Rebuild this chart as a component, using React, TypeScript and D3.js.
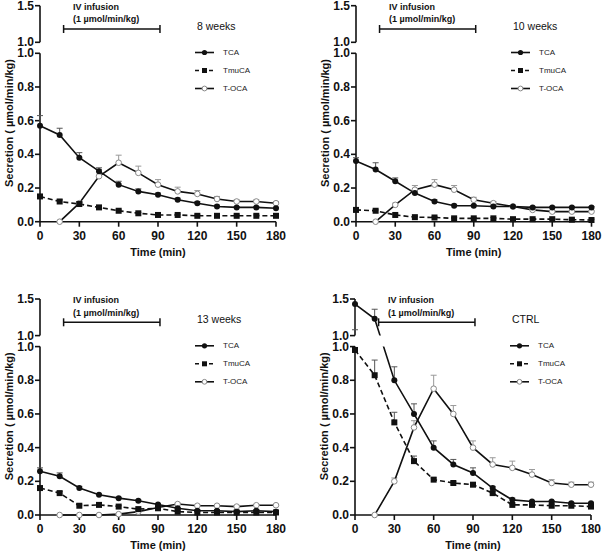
import React from 'react';
import * as d3 from 'd3';

const times = [0, 15, 30, 45, 60, 75, 90, 105, 120, 135, 150, 165, 180];
const xTicks = [0, 30, 60, 90, 120, 150, 180];
const yLowerTicks = [0, 0.2, 0.4, 0.6, 0.8, 1.0];
const yUpperTicks = [1.0, 1.5];
const panelTitles = ['8 weeks', '10 weeks', '13 weeks', 'CTRL'];
const seriesNames = ['TCA', 'TmuCA', 'T-OCA'];
const infusionWindow = [18, 91.5];

// 8 weeks
const tca8 = [0.57, 0.515, 0.38, 0.3, 0.22, 0.18, 0.16, 0.13, 0.11, 0.09, 0.085, 0.085, 0.08];
const tca8Err = [0.06, 0.04, 0.03, 0.02, 0.02, 0.015, 0.01, 0.01, 0.01, 0.008, 0.005, 0.005, 0.005];
const tmu8 = [0.15, 0.12, 0.105, 0.085, 0.065, 0.05, 0.04, 0.04, 0.035, 0.035, 0.035, 0.035, 0.035];
const tmu8Err = [0.01, 0.01, 0.01, 0.005, 0.005, 0.005, 0.005, 0.005, 0.005, 0.005, 0.005, 0.005, 0.005];
const toca8 = [null, 0, 0.11, 0.27, 0.35, 0.29, 0.22, 0.18, 0.165, 0.135, 0.12, 0.12, 0.11];
const toca8Err = [null, 0, 0.01, 0.04, 0.045, 0.04, 0.03, 0.025, 0.02, 0.015, 0.01, 0.01, 0.01];

// 10 weeks
const tca10 = [0.36, 0.31, 0.24, 0.17, 0.12, 0.095, 0.095, 0.09, 0.09, 0.085, 0.085, 0.085, 0.085];
const tca10Err = [0.02, 0.04, 0.02, 0.015, 0.01, 0.008, 0.005, 0.005, 0.005, 0.005, 0.005, 0.005, 0.005];
const tmu10 = [0.07, 0.065, 0.04, 0.027, 0.025, 0.02, 0.02, 0.02, 0.015, 0.015, 0.015, 0.012, 0.01];
const tmu10Err = [0.005, 0.005, 0.005, 0.005, 0.005, 0.005, 0.005, 0.005, 0.005, 0.005, 0.005, 0.005, 0.005];
const toca10 = [null, 0, 0.1, 0.19, 0.22, 0.19, 0.13, 0.11, 0.09, 0.07, 0.06, 0.06, 0.06];
const toca10Err = [null, 0, 0.01, 0.025, 0.03, 0.025, 0.015, 0.01, 0.005, 0.005, 0.005, 0.005, 0.005];

// 13 weeks
const tca13 = [0.26, 0.23, 0.16, 0.12, 0.1, 0.085, 0.062, 0.04, 0.025, 0.025, 0.02, 0.025, 0.02];
const tca13Err = [0.02, 0.02, 0.01, 0.005, 0.005, 0.005, 0.005, 0.005, 0.005, 0.005, 0.005, 0.005, 0.005];
const tmu13 = [0.16, 0.13, 0.055, 0.06, 0.05, 0.035, 0.04, 0.02, 0.015, 0.015, 0.015, 0.015, 0.015];
const tmu13Err = [0.01, 0.01, 0.005, 0.005, 0.005, 0.005, 0.005, 0.005, 0.005, 0.005, 0.005, 0.005, 0.005];
const toca13 = [null, 0, 0, 0, 0.005, 0.02, 0.045, 0.065, 0.055, 0.055, 0.05, 0.058, 0.058];
const toca13Err = [null, 0, 0, 0, 0.002, 0.005, 0.005, 0.005, 0.005, 0.005, 0.005, 0.005, 0.005];

// CTRL
const tcaC = [1.43, 1.23, 0.8, 0.6, 0.4, 0.3, 0.25, 0.16, 0.09, 0.08, 0.08, 0.07, 0.07];
const tcaCErr = [-0.35, 0.13, 0.08, 0.06, 0.04, 0.03, 0.03, 0.01, 0.01, 0.005, 0.005, 0.005, 0.005];
const tmuC = [0.98, 0.83, 0.55, 0.32, 0.21, 0.19, 0.18, 0.13, 0.06, 0.06, 0.055, 0.055, 0.05];
const tmuCErr = [0.01, 0.09, 0.06, 0.03, 0.01, 0.01, 0.01, 0.01, 0.005, 0.005, 0.005, 0.005, 0.005];
const tocaC = [null, 0, 0.2, 0.52, 0.75, 0.6, 0.4, 0.3, 0.28, 0.24, 0.19, 0.18, 0.18];
const tocaCErr = [null, 0, 0.02, 0.04, 0.08, 0.05, 0.04, 0.04, 0.04, 0.03, 0.02, 0.015, 0.015];

const panelData = [
  { tca: tca8, tcaErr: tca8Err, tmu: tmu8, tmuErr: tmu8Err, toca: toca8, tocaErr: toca8Err },
  { tca: tca10, tcaErr: tca10Err, tmu: tmu10, tmuErr: tmu10Err, toca: toca10, tocaErr: toca10Err },
  { tca: tca13, tcaErr: tca13Err, tmu: tmu13, tmuErr: tmu13Err, toca: toca13, tocaErr: toca13Err },
  { tca: tcaC, tcaErr: tcaCErr, tmu: tmuC, tmuErr: tmuCErr, toca: tocaC, tocaErr: tocaCErr },
];

const layout = [
  { x0: 40, x1: 276, oy: 0 },
  { x0: 356, x1: 591.5, oy: 0 },
  { x0: 40, x1: 276, oy: 293.3 },
  { x0: 355, x1: 591, oy: 293.3 },
];

const FONT = '"Liberation Sans", Arial, Helvetica, sans-serif';

type P = { x0: number; x1: number; oy: number };

function Panel({ p, d, title, idx }: { p: P; d: any; title: string; idx: number }) {
  const x = d3.scaleLinear().domain([0, 180]).range([p.x0, p.x1]);
  const yL = d3.scaleLinear().domain([0, 1]).range([p.oy + 221.7, p.oy + 53.3]);
  const yU = d3.scaleLinear().domain([1, 1.5]).range([p.oy + 42.3, p.oy + 5.7]);
  const y = (v: number) => (v > 1 ? yU(v) : yL(v));

  const line = d3
    .line<[number, number | null]>()
    .defined((q) => q[1] != null)
    .x((q) => x(q[0]))
    .y((q) => y(q[1] as number));

  const pts = (arr: (number | null)[]) => times.map((t, i) => [t, arr[i]] as [number, number | null]);
  const clipId = `clip${idx}`;

  const errBars = (vals: (number | null)[], errs: (number | null)[], color: string) =>
    times.map((t, i) => {
      const v = vals[i];
      const e = errs[i];
      if (v == null || e == null || e === 0) return null;
      const y1 = y(v);
      const y2 = y(v + e);
      return (
        <g key={`e${i}`} stroke={color} strokeWidth={1}>
          <line x1={x(t)} x2={x(t)} y1={y1} y2={y2} />
          <line x1={x(t) - 3} x2={x(t) + 3} y1={y2} y2={y2} />
        </g>
      );
    });

  const lx = p.x0 + 155;
  const legendY = [p.oy + 52.5, p.oy + 70.5, p.oy + 88.5];
  const axisColor = '#111';

  return (
    <g>
      <defs>
        <clipPath id={clipId}>
          <rect x={p.x0 - 5} y={yL(1)} width={p.x1 - p.x0 + 15} height={yL(0) - yL(1) + 10} />
          <rect x={p.x0 - 5} y={yU(1.5) - 10} width={p.x1 - p.x0 + 15} height={yU(1) - yU(1.5) + 10} />
        </clipPath>
      </defs>

      {/* axes */}
      <g stroke={axisColor} strokeWidth={1.6} fill="none">
        <line x1={p.x0} x2={p.x0} y1={yL(0)} y2={yL(1)} />
        <line x1={p.x0} x2={p.x0} y1={yU(1)} y2={yU(1.5)} />
        <line x1={p.x0} x2={p.x1} y1={yL(0)} y2={yL(0)} />
        {yLowerTicks.map((t) => (
          <line key={`yl${t}`} x1={p.x0 - 5} x2={p.x0} y1={yL(t)} y2={yL(t)} />
        ))}
        {yUpperTicks.map((t) => (
          <line key={`yu${t}`} x1={p.x0 - 5} x2={p.x0} y1={yU(t)} y2={yU(t)} />
        ))}
        {xTicks.map((t) => (
          <line key={`xt${t}`} x1={x(t)} x2={x(t)} y1={yL(0)} y2={yL(0) + 5} />
        ))}
      </g>
      <g fontFamily={FONT} fontWeight="bold" fontSize={12} fill="#111">
        {yLowerTicks.map((t) => (
          <text key={`ylt${t}`} x={p.x0 - 6} y={yL(t)} textAnchor="end" dominantBaseline="central">
            {d3.format('.1f')(t)}
          </text>
        ))}
        {yUpperTicks.map((t) => (
          <text key={`yut${t}`} x={p.x0 - 6} y={yU(t)} textAnchor="end" dominantBaseline="central">
            {d3.format('.1f')(t)}
          </text>
        ))}
        {xTicks.map((t) => (
          <text key={`xtt${t}`} x={x(t)} y={p.oy + 240} textAnchor="middle">
            {t}
          </text>
        ))}
      </g>
      <text
        x={(p.x0 + p.x1) / 2}
        y={p.oy + 255.5}
        textAnchor="middle"
        fontFamily={FONT}
        fontWeight="bold"
        fontSize={11}
        fill="#111"
      >
        Time (min)
      </text>
      <text
        transform={`translate(${p.x0 - 31},${p.oy + 123}) rotate(-90)`}
        textAnchor="middle"
        dominantBaseline="central"
        fontFamily={FONT}
        fontWeight="bold"
        fontSize={11}
        fill="#111"
      >
        Secretion ( µmol/min/kg)
      </text>

      {/* infusion */}
      <g fontFamily={FONT} fontWeight="bold" fontSize={9} fill="#111">
        <text x={p.x0 + 33} y={p.oy + 10}>IV infusion</text>
        <text x={p.x0 + 33} y={p.oy + 22.3}>(1 µmol/min/kg)</text>
      </g>
      <g stroke="#111" strokeWidth={1.5}>
        <line x1={x(infusionWindow[0])} x2={x(infusionWindow[1])} y1={p.oy + 29} y2={p.oy + 29} />
        <line x1={x(infusionWindow[0])} x2={x(infusionWindow[0])} y1={p.oy + 25} y2={p.oy + 33} />
        <line x1={x(infusionWindow[1])} x2={x(infusionWindow[1])} y1={p.oy + 25} y2={p.oy + 33} />
      </g>

      {/* title & legend */}
      <text x={lx + 2} y={p.oy + 30} fontFamily={FONT} fontSize={10.5} fill="#111">
        {title}
      </text>
      {seriesNames.map((name, i) => (
        <g key={name}>
          <line
            x1={lx}
            x2={lx + 19}
            y1={legendY[i]}
            y2={legendY[i]}
            stroke="#111"
            strokeWidth={1.6}
            strokeDasharray={i === 1 ? '4,3' : undefined}
          />
          {i === 0 && <circle cx={lx + 9.5} cy={legendY[i]} r={2.6} fill="#111" />}
          {i === 1 && <rect x={lx + 7} y={legendY[i] - 2.5} width={5} height={5} fill="#111" />}
          {i === 2 && <circle cx={lx + 9.5} cy={legendY[i]} r={2.4} fill="#fff" stroke="#888" strokeWidth={1} />}
          <text x={lx + 28} y={legendY[i]} dominantBaseline="central" fontFamily={FONT} fontSize={8} fill="#222">
            {name}
          </text>
        </g>
      ))}

      {/* error bars */}
      {errBars(d.toca, d.tocaErr, '#999')}
      {errBars(d.tca, d.tcaErr, '#555')}
      {errBars(d.tmu, d.tmuErr, '#555')}

      {/* lines */}
      <g clipPath={`url(#${clipId})`} fill="none" stroke="#111" strokeWidth={1.6}>
        <path d={line(pts(d.toca)) || ''} />
        <path d={line(pts(d.tca)) || ''} />
        <path d={line(pts(d.tmu)) || ''} strokeDasharray="5,3" />
      </g>

      {/* markers */}
      {times.map((t, i) =>
        d.toca[i] == null ? null : (
          <circle key={`o${i}`} cx={x(t)} cy={y(d.toca[i])} r={2.8} fill="#fff" stroke="#888" strokeWidth={1} />
        )
      )}
      {times.map((t, i) => (
        <rect key={`s${i}`} x={x(t) - 3} y={y(d.tmu[i]) - 3} width={6} height={6} fill="#111" />
      ))}
      {times.map((t, i) => (
        <circle key={`c${i}`} cx={x(t)} cy={y(d.tca[i])} r={3} fill="#111" />
      ))}
    </g>
  );
}

export default function App() {
  return (
    <svg
      width={602}
      height={552}
      style={{ position: 'absolute', left: 0, top: 0, background: '#fff' }}
    >
      <rect width={602} height={552} fill="#fff" />
      {layout.map((p, i) => (
        <Panel key={i} p={p} d={panelData[i]} title={panelTitles[i]} idx={i} />
      ))}
    </svg>
  );
}
